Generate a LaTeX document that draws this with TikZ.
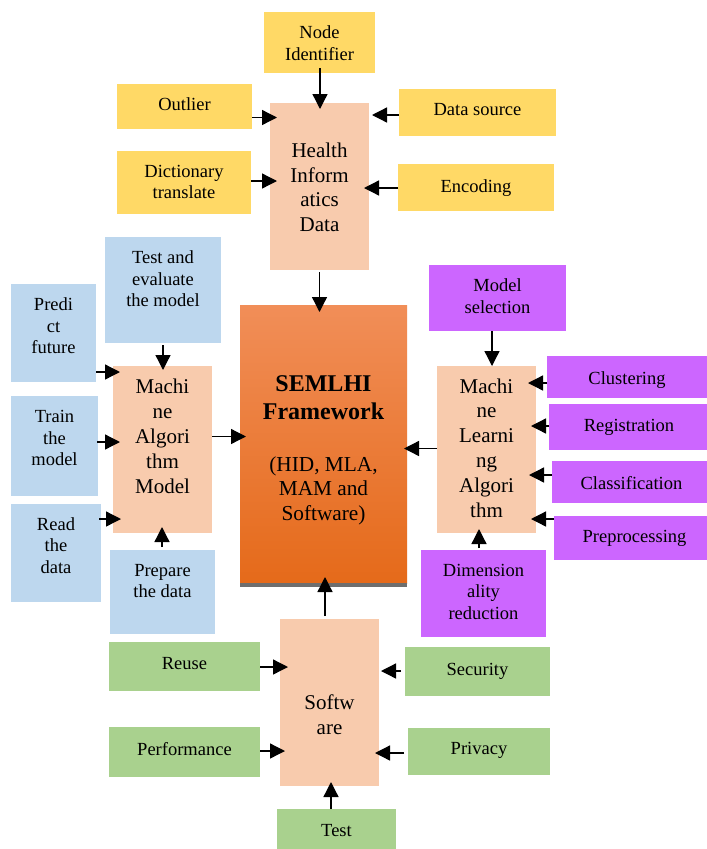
\documentclass[tikz,border=0pt]{standalone}
\usepackage{fontspec}
\setmainfont{Liberation Serif}
\newfontfamily\tnr{Liberation Serif}
\usetikzlibrary{arrows.meta}
\definecolor{yel}{HTML}{FFD966}
\definecolor{blu}{HTML}{BDD7EE}
\definecolor{pur}{HTML}{CC66FF}
\definecolor{grn}{HTML}{A9D18E}
\definecolor{pch}{HTML}{F8CBAD}
\definecolor{orT}{RGB}{241,142,88}
\definecolor{orB}{RGB}{229,106,26}
\definecolor{shd}{RGB}{110,110,110}
\tikzset{
 boxbase/.style={draw=none, inner sep=0pt, outer sep=0pt, rectangle},
 stxt/.style={align=center, inner sep=0pt, font=\tnr\fontsize{18.5}{21.5}\selectfont},
 mtxt/.style={align=center, inner sep=0pt, font=\tnr\fontsize{21}{24.8}\selectfont},
 arr/.style={line width=1.3pt, -{Triangle[length=15pt,width=15pt]}},
}
\newcommand\mybox[9]{%
 \node[boxbase, fill=#6, minimum width={(#4-#2)*1pt}, minimum height={(#5-#3)*1pt}] (#1) at ({(#2+#4)/2},{(#3+#5)/2}) {};
 \node[#9] (#1t) at ({(#2+#4)/2},#8) {#7};}
% horizontal arrow: src anchor, dst anchor, dy (down, px), shorten start, shorten end
\newcommand\harr[5]{\draw[arr, shorten <={#4pt}, shorten >={#5pt}] ([yshift={-(#3)*1pt}]#1) coordinate (tmp) -- (#2 |- tmp);}
% vertical arrow: src anchor, dst anchor, dx (right, px), shorten start, shorten end
\newcommand\varr[5]{\draw[arr, shorten <={#4pt}, shorten >={#5pt}] ([xshift={(#3)*1pt}]#1) coordinate (tmp) -- (tmp |- #2);}
\begin{document}
\begin{tikzpicture}[x=1pt,y=-1pt]
\useasboundingbox[fill=white] (0,0) rectangle (707,849);
% top group
\mybox{ni}{264}{12}{375}{73}{yel}{Node\\Identifier}{43.2}{stxt}
\mybox{out}{117}{84}{252}{129}{yel}{Outlier}{103.7}{stxt}
\mybox{ds}{399}{89}{556}{136}{yel}{Data source}{109.7}{stxt}
\mybox{dict}{117}{151}{251}{214}{yel}{Dictionary\\translate}{182.2}{stxt}
\mybox{enc}{398}{164}{554}{211}{yel}{Encoding}{187.7}{stxt}
\mybox{hid}{270}{103}{369}{270}{pch}{Health\\Inform\\atics\\Data}{187.4}{mtxt}
% left group
\mybox{tev}{105}{237}{221}{343}{blu}{Test and\\evaluate\\the model}{278.7}{stxt}
\mybox{pred}{11}{284}{96}{382}{blu}{Predi\\ct\\future}{325.7}{stxt}
\mybox{train}{11}{396}{98}{496}{blu}{Train\\the\\model}{438.2}{stxt}
\mybox{read}{11}{504}{101}{602}{blu}{Read\\the\\data}{545.2}{stxt}
\mybox{prep}{110}{550}{215}{634}{blu}{Prepare\\the data}{581.2}{stxt}
\mybox{mam}{113}{366}{212}{533}{pch}{Machi\\ne\\Algori\\thm\\Model}{436.4}{mtxt}
% right group
\mybox{msel}{429}{265}{566}{331}{pur}{Model\\selection}{296.2}{stxt}
\mybox{clu}{547}{356}{707}{398}{pur}{Clustering}{379.7}{stxt}
\mybox{reg}{549}{404}{709}{450}{pur}{Registration}{427.7}{stxt}
\mybox{cls}{552}{461}{711}{503}{pur}{Classification}{482.7}{stxt}
\mybox{pre}{554}{516}{715}{560}{pur}{Preprocessing}{538.7}{stxt}
\mybox{mla}{437}{366}{536}{533}{pch}{Machi\\ne\\Learni\\ng\\Algori\\thm}{447.9}{mtxt}
\mybox{dim}{421}{550}{546}{637}{pur}{Dimension\\ality\\reduction}{591.7}{stxt}
% bottom group
\mybox{sw}{280}{619}{379}{786}{pch}{Softw\\are}{715}{mtxt}
\mybox{reuse}{109}{642}{260}{691}{grn}{Reuse}{663.7}{stxt}
\mybox{perf}{109}{727}{260}{777}{grn}{Performance}{748.7}{stxt}
\mybox{sec}{405}{647}{550}{696}{grn}{Security}{671}{stxt}
\mybox{priv}{408}{728}{550}{775}{grn}{Privacy}{750.7}{stxt}
\mybox{test}{277}{809}{396}{849}{grn}{Test}{830.4}{stxt}
% centre
\node[boxbase, top color=orT, bottom color=orB, minimum width=167pt, minimum height=278pt] (sem) at (323.5,444) {};
\fill[shd] (sem.south west) rectangle ([yshift=-4pt]sem.south east);
\node[align=center, inner sep=0pt, font=\tnr\bfseries\fontsize{24}{28}\selectfont] (semt) at (323.5,397.7) {SEMLHI\\Framework};
\node[align=center, inner sep=0pt, font=\tnr\fontsize{21.3}{24.5}\selectfont] (semp) at (323.5,490.8) {(HID, MLA,\\MAM and\\Software)};
% arrows top
\varr{ni.south}{hid.north}{0.5}{-5}{-6}
\harr{out.east}{hid.west}{11}{0}{-7}
\harr{ds.west}{hid.east}{2.5}{0}{3}
\harr{dict.east}{hid.west}{-1.5}{0}{-7}
\harr{enc.west}{hid.east}{0.5}{0}{-5}
\varr{hid.south}{sem.north}{0}{2}{-7}
% arrows left
\varr{tev.south}{mam.north}{0}{2}{-4}
\harr{pred.east}{mam.west}{39}{0}{-7}
\harr{train.east}{mam.west}{-4}{-1}{-7}
\harr{read.east}{mam.west}{-34}{-2}{-8}
\varr{prep.north}{mam.south}{-0.5}{3}{-6}
\harr{mam.east}{sem.west}{-13}{0}{-6}
% arrows right
\varr{msel.south}{mla.north}{-5.5}{0}{0}
\harr{clu.west}{mla.east}{6}{0}{-8}
\harr{reg.west}{mla.east}{-1}{0}{-5}
\harr{cls.west}{mla.east}{-7}{0}{-7}
\harr{pre.west}{mla.east}{-19}{0}{-5}
\varr{dim.north}{mla.south}{-4.5}{2}{-4}
\harr{mla.west}{sem.east}{-1}{0}{-3}
% arrows bottom
\varr{sw.north}{sem.south}{-4.5}{3}{-6}
\harr{reuse.east}{sw.west}{0.5}{0}{-8}
\harr{perf.east}{sw.west}{-1}{0}{-5}
\harr{sec.west}{sw.east}{-0.5}{4}{2}
\harr{priv.west}{sw.east}{1.5}{4}{-4}
\varr{test.north}{sw.south}{-5.5}{0}{-4}
\end{tikzpicture}
\end{document}
